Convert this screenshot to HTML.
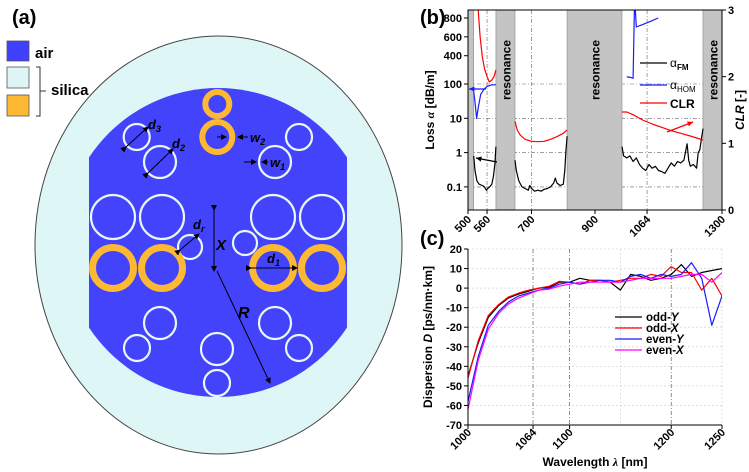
<!DOCTYPE html>
<html><head><meta charset="utf-8">
<style>
body{margin:0;background:#fff;}
svg{display:block;font-family:"Liberation Sans",sans-serif;}
</style></head>
<body>
<svg id="fig" width="749" height="472" viewBox="0 0 749 472" xmlns="http://www.w3.org/2000/svg">
<defs>
<clipPath id="coreclip"><rect x="89" y="80" width="258" height="330"/></clipPath>
<clipPath id="bclip"><rect x="468" y="10" width="254" height="200"/></clipPath>
<clipPath id="cclip"><rect x="468" y="249" width="254" height="176"/></clipPath>
<marker id="ah" markerWidth="6" markerHeight="6" refX="5" refY="3" orient="auto"><path d="M0,0 L6,3 L0,6 z" fill="#000"/></marker>
</defs>

<!-- Panel (a) -->
<g>
<text x="12" y="24" font-size="20" font-weight="bold">(a)</text>
<rect x="7" y="41" width="22" height="20" fill="#4040ff" stroke="#555" stroke-width="0.8"/>
<text x="35" y="58" font-size="15" font-weight="bold">air</text>
<rect x="7" y="67" width="22" height="21" fill="#dff5f5" stroke="#555" stroke-width="0.8"/>
<rect x="7" y="95" width="22" height="21" fill="#fdb834" stroke="#555" stroke-width="0.8"/>
<path d="M36,67 H40 V116 H36 M40,91 H46" fill="none" stroke="#333" stroke-width="1"/>
<text x="51" y="95" font-size="15" font-weight="bold">silica</text>

<ellipse cx="218.5" cy="245" rx="183.5" ry="209" fill="#dff6f7" stroke="#444" stroke-width="1"/>
<circle cx="218" cy="242.5" r="154.5" fill="#4343fb" clip-path="url(#coreclip)"/>
<g id="rings"></g>

<g stroke="#000" stroke-width="1" fill="none">
<line x1="126" y1="147" x2="148" y2="127" marker-end="url(#ah)" marker-start="url(#ah)"/>
<line x1="148" y1="173" x2="173" y2="149" marker-end="url(#ah)" marker-start="url(#ah)"/>
<line x1="214" y1="210" x2="214" y2="271" marker-end="url(#ah)" marker-start="url(#ah)"/>
<line x1="217" y1="271" x2="270" y2="383" marker-end="url(#ah)"/>
<line x1="251" y1="268" x2="297" y2="268" marker-end="url(#ah)" marker-start="url(#ah)"/>
<line x1="180" y1="250" x2="199" y2="234" marker-end="url(#ah)" marker-start="url(#ah)"/>
<line x1="217" y1="137" x2="226" y2="137" marker-end="url(#ah)"/>
<line x1="248" y1="137" x2="238" y2="137" marker-end="url(#ah)"/>
<line x1="244" y1="162" x2="256" y2="162" marker-end="url(#ah)"/>
<line x1="268" y1="162" x2="262" y2="162" marker-end="url(#ah)"/>
</g>
<g font-size="13" font-weight="bold" font-style="italic" fill="#000">
<text x="148" y="129">d<tspan font-size="9" dy="3">3</tspan></text>
<text x="172" y="148">d<tspan font-size="9" dy="3">2</tspan></text>
<text x="250" y="142">w<tspan font-size="9" dy="3">2</tspan></text>
<text x="270" y="167">w<tspan font-size="9" dy="3">1</tspan></text>
<text x="193" y="229">d<tspan font-size="9" dy="3">r</tspan></text>
<text x="216" y="250" font-size="15">X</text>
<text x="267" y="263">d<tspan font-size="9" dy="3">1</tspan></text>
<text x="238" y="318" font-size="16">R</text>
</g>
</g>

<!-- Panel (b) -->
<g>
<text x="420" y="24" font-size="20" font-weight="bold">(b)</text>
<g id="bgrid"></g>
<g id="bbands"></g>
<g id="bseries" clip-path="url(#bclip)"></g>
<rect x="468" y="10" width="254" height="200" fill="none" stroke="#000" stroke-width="1"/>
<g id="baxes"></g>
<text transform="translate(434,110) rotate(-90)" text-anchor="middle" font-size="12" font-weight="bold">Loss <tspan font-style="italic" font-family="Liberation Serif">α</tspan> [dB/m]</text>
<text transform="translate(744,110) rotate(-90)" text-anchor="middle" font-size="12" font-weight="bold"><tspan font-style="italic">CLR</tspan> [-]</text>
<g>
<line x1="640" y1="63" x2="667" y2="63" stroke="#000" stroke-width="1.2"/>
<text x="670" y="67" font-size="12">α<tspan font-size="8" dy="3" font-weight="bold">FM</tspan></text>
<line x1="640" y1="85" x2="667" y2="85" stroke="#1a1aff" stroke-width="1.2"/>
<text x="670" y="89" font-size="12">α<tspan font-size="8" dy="3">HOM</tspan></text>
<line x1="640" y1="103" x2="667" y2="103" stroke="#f00" stroke-width="1.2"/>
<text x="670" y="108" font-size="12" font-weight="bold">CLR</text>
</g>
</g>

<!-- Panel (c) -->
<g>
<text x="420" y="245" font-size="20" font-weight="bold">(c)</text>
<g id="cgrid"></g>
<g id="cseries" clip-path="url(#cclip)"></g>
<path d="M468,249 V425 H722" fill="none" stroke="#000" stroke-width="1"/>
<g id="caxes"></g>
<text transform="translate(432,337) rotate(-90)" text-anchor="middle" font-size="12" font-weight="bold">Dispersion <tspan font-style="italic">D</tspan> [ps/nm·km]</text>
<text x="595" y="466" text-anchor="middle" font-size="12" font-weight="bold">Wavelength <tspan font-style="italic" font-family="Liberation Serif">λ</tspan> [nm]</text>
<g id="clegend"></g>
</g>

<script>
// ---------- Panel (b) data ----------
const fmSeg1 = [[518,0.8],[522,0.3],[528,0.15],[535,0.12],[545,0.11],[552,0.1],[558,0.08],[562,0.09],[568,0.1],[575,0.12],[580,0.2],[585,0.5],[588,1.5]];
const fmSeg2 = [[648,0.6],[652,0.3],[660,0.15],[670,0.1],[680,0.09],[690,0.08],[695,0.11],[700,0.09],[710,0.075],[720,0.08],[730,0.075],[740,0.085],[750,0.09],[760,0.1],[770,0.13],[775,0.18],[780,0.13],[790,0.11],[800,0.12],[805,0.3],[808,1],[812,3]];
const fmSeg3 = [[985,1.5],[990,0.8],[1000,0.7],[1010,0.8],[1020,0.55],[1030,0.7],[1040,0.45],[1050,0.35],[1060,0.3],[1070,0.45],[1080,0.35],[1090,0.4],[1100,0.3],[1110,0.28],[1120,0.25],[1130,0.35],[1140,0.5],[1150,0.4],[1160,0.55],[1170,0.5],[1180,0.6],[1190,1.8],[1195,0.6],[1200,0.4],[1210,0.45],[1220,0.35],[1225,1],[1230,1.2],[1235,2.5],[1240,5]];
const homSeg1 = [[518,60],[522,30],[527,10],[532,20],[540,50],[550,70],[560,85],[575,95],[588,95]];
const homSeg2 = [[1000,175],[1012,170],[1020,160],[1024,900],[1026,950],[1030,705],[1050,730],[1075,765],[1099,800]];
const clrSeg1 = [[532,3.0],[538,2.6],[545,2.3],[552,2.12],[560,2.0],[567,1.92],[575,1.95],[582,2.0],[588,2.1]];
const clrSeg2 = [[648,1.33],[655,1.2],[665,1.12],[680,1.06],[700,1.03],[720,1.025],[740,1.03],[760,1.06],[780,1.1],[800,1.15],[812,1.2]];
const clrSeg3 = [[985,1.47],[1000,1.47],[1020,1.43],[1050,1.35],[1080,1.29],[1110,1.24],[1140,1.19],[1170,1.15],[1200,1.11],[1240,1.05]];
const resonanceBands = [[500,518],[588,648],[812,985],[1240,1300]];
const bXTicks = [500,560,700,900,1064,1300];
const bYTicksLog = [0.1,1,10,100];
const bYTicksLin = [400,600,800];
const bRightTicks = [0,1,2,3];

// ---------- Panel (c) data ----------
const cWavelengths = [1000,1010,1020,1030,1040,1050,1060,1070,1080,1090,1100,1110,1120,1130,1140,1150,1160,1170,1180,1190,1200,1210,1220,1230,1240,1250];
const oddY  = [-45,-28,-15,-9,-5,-3,-1.5,0,0.5,3,3,5,4,4,3,-1,7,6,4,5,7,12,6,8,9,10];
const oddX  = [-46,-27,-14,-8.5,-4.5,-2.5,-1,0,1,3.5,3,2,4,4,3,4,5,5,7,6,11,8,8,-1,5,-4];
const evenY = [-58,-35,-19,-12,-7,-4,-2.5,-1,0,2,3,2,3,4,4,3,6,7,5,7,6,7,13,5,-19,-4];
const evenX = [-62,-37,-21,-13,-8,-5,-3,-1,-0.5,1,2,3,3,3,3,3,4,5,5,5,5,6,7,7,3,8];
const cSeriesNames = ["odd-Y","odd-X","even-Y","even-X"];
const cXTicks = [1000,1064,1100,1200,1250];
const cYTicks = [20,10,0,-10,-20,-30,-40,-50,-60,-70];

// ---------- Panel (a) tube data ----------
const whiteTubes = [[136.7,137,14],[160,162,17],[299,137,14],[275,162,17],[113,217,23],[162,217,23],[273,217,23],[322,217,23],[190,247,13],[245,243,13],[160,323,17],[137,348,14],[275,323,17],[299,348,14],[217,349,17],[217,383,14]];
const orangeTubes = [[217.3,104,15,6],[217.3,137,18,6],[113,268,24,7],[162,268,24,7],[273,268,24,7],[322,268,24,7]];

const NS="http://www.w3.org/2000/svg";
function mk(tag, attrs, parent){const e=document.createElementNS(NS,tag);for(const k in attrs)e.setAttribute(k,attrs[k]);parent.appendChild(e);return e;}

// Panel a rings
const rings=document.getElementById('rings');
whiteTubes.forEach(t=>{
  const c=mk('circle',{cx:t[0],cy:t[1],r:t[2]-1,fill:'none',stroke:'#e8f7f8','stroke-width':2.2},rings);
  
  
});
orangeTubes.forEach(t=>{
  const c=mk('circle',{cx:t[0],cy:t[1],r:t[2]-t[3]/2,fill:'none',stroke:'#fdb834','stroke-width':t[3]},rings);
  
  
});

// Panel b axes
const bx = l => 468 + (l-500)*254/800;
const by = v => v<=100 ? 84 - Math.log10(v/100)*34.3 : 84 - (v-100)/700*66;
const byR = v => 210 - v/3*200;
const bgrid=document.getElementById('bgrid');
[560,700,900,1064].forEach(t=>{const l=mk('line',{x1:bx(t),x2:bx(t),y1:10,y2:210,stroke:'#666','stroke-width':0.6,'stroke-dasharray':'4,2,1,2'},bgrid);
  
  });
[0.1,1,10,100].forEach(t=>{const l=mk('line',{x1:468,x2:722,y1:by(t),y2:by(t),stroke:'#666','stroke-width':0.6,'stroke-dasharray':'4,2,1,2'},bgrid);
  
  });
const bbands=document.getElementById('bbands');
resonanceBands.forEach(b=>{
  const r=mk('rect',{x:bx(b[0]),y:10,width:bx(b[1])-bx(b[0]),height:200,fill:'#c4c4c4',stroke:'#888','stroke-width':0.6},bbands);
  
  
  const w=bx(b[1])-bx(b[0]);
  if(w>10){const cx=bx(b[0])+w/2;
    const t=mk('text',{transform:`translate(${cx+5},70) rotate(-90)`,'text-anchor':'middle','font-size':12,'font-weight':'bold'},bbands);
    t.textContent='resonance';
    
    }
});
const bseries=document.getElementById('bseries');
function seg(pts,fx,fy,color,name,parent){
  const p=mk('polyline',{points:pts.map(q=>fx(q[0]).toFixed(1)+','+fy(q[1]).toFixed(1)).join(' '),fill:'none',stroke:color,'stroke-width':1.2,'stroke-linejoin':'round'},parent);
  
  
}
[fmSeg1,fmSeg2,fmSeg3].forEach(s=>seg(s,bx,by,'#000','fm-loss-line',bseries));
[homSeg1,homSeg2].forEach(s=>seg(s,bx,by,'#1a1aff','hom-loss-line',bseries));
[clrSeg1,clrSeg2,clrSeg3].forEach(s=>seg(s,bx,byR,'#f00','clr-line',bseries));
// indicator arrows
const baxes=document.getElementById('baxes');
function arrow(x1,y1,x2,y2,c,name){const l=mk('line',{x1,y1,x2,y2,stroke:c,'stroke-width':1.3},baxes);
  
  
  const a=Math.atan2(y2-y1,x2-x1),s=6;
  const h=mk('polygon',{points:`${x2},${y2} ${x2-s*Math.cos(a-0.45)},${y2-s*Math.sin(a-0.45)} ${x2-s*Math.cos(a+0.45)},${y2-s*Math.sin(a+0.45)}`,fill:c},baxes);
  
  }
arrow(497,162,476,158,'#000','fm-axis-arrow');
arrow(486,89,469,89,'#1a1aff','hom-axis-arrow');
arrow(667,132,693,122,'#f00','clr-axis-arrow');
bXTicks.forEach(t=>{
  mk('line',{x1:bx(t),x2:bx(t),y1:210,y2:214,stroke:'#000'},baxes);
  const tx=mk('text',{transform:`translate(${bx(t)+4},220) rotate(-45)`,'text-anchor':'end','font-size':11,'font-weight':'bold'},baxes);
  tx.textContent=t;
  
  
});
bYTicksLog.concat(bYTicksLin).forEach(t=>{
  mk('line',{x1:464,x2:468,y1:by(t),y2:by(t),stroke:'#000'},baxes);
  const tx=mk('text',{x:462,y:by(t)+4,'text-anchor':'end','font-size':11,'font-weight':'bold'},baxes);
  tx.textContent=t;
  
  
});
bRightTicks.forEach(t=>{
  mk('line',{x1:722,x2:726,y1:byR(t),y2:byR(t),stroke:'#000'},baxes);
  const tx=mk('text',{x:728,y:byR(t)+4,'font-size':11,'font-weight':'bold'},baxes);
  tx.textContent=t;
  
  
});

// Panel c
const cx = l => 468 + (l-1000)*254/250;
const cy = v => 249 + (20-v)*176/90;
const cgrid=document.getElementById('cgrid');
cYTicks.forEach(t=>{const l=mk('line',{x1:468,x2:722,y1:cy(t),y2:cy(t),stroke:'#ccc','stroke-width':0.6,'stroke-dasharray':'2,2'},cgrid);
  
  });
[1064,1100,1200].forEach(t=>{const l=mk('line',{x1:cx(t),x2:cx(t),y1:249,y2:425,stroke:'#444','stroke-width':0.6,'stroke-dasharray':'4,2,1,2'},cgrid);
  
  });
[1150,1250].forEach(t=>{const l=mk('line',{x1:cx(t),x2:cx(t),y1:249,y2:425,stroke:'#ccc','stroke-width':0.6,'stroke-dasharray':'2,2'},cgrid);
  
  });
const cseries=document.getElementById('cseries');
const cColors=['#000','#f00','#1a1aff','#ff00ff'];
[oddY,oddX,evenY,evenX].forEach((s,i)=>{
  seg(cWavelengths.map((l,j)=>[l,s[j]]),cx,cy,cColors[i],'dispersion-'+cSeriesNames[i].toLowerCase()+'-line',cseries);
});
const caxes=document.getElementById('caxes');
cXTicks.forEach(t=>{
  mk('line',{x1:cx(t),x2:cx(t),y1:425,y2:429,stroke:'#000'},caxes);
  const tx=mk('text',{transform:`translate(${cx(t)+4},433) rotate(-45)`,'text-anchor':'end','font-size':11,'font-weight':'bold'},caxes);
  tx.textContent=t;
  
  
});
cYTicks.forEach(t=>{
  mk('line',{x1:464,x2:468,y1:cy(t),y2:cy(t),stroke:'#000'},caxes);
  const tx=mk('text',{x:462,y:cy(t)+4,'text-anchor':'end','font-size':11,'font-weight':'bold'},caxes);
  tx.textContent=t;
  
  
});
const clegend=document.getElementById('clegend');
cSeriesNames.forEach((n,i)=>{
  const y=317+i*11;
  const l=mk('line',{x1:615,x2:642,y1:y,y2:y,stroke:cColors[i],'stroke-width':1.3},clegend);
  
  
  const t=mk('text',{x:646,y:y+4,'font-size':11.5,'font-weight':'bold'},clegend);
  const parts=n.split('-');
  t.textContent=parts[0]+'-';
  const ts=mk('tspan',{'font-style':'italic'},t);ts.textContent=parts[1];
  
  
});
</script>
</svg>
</body></html>
